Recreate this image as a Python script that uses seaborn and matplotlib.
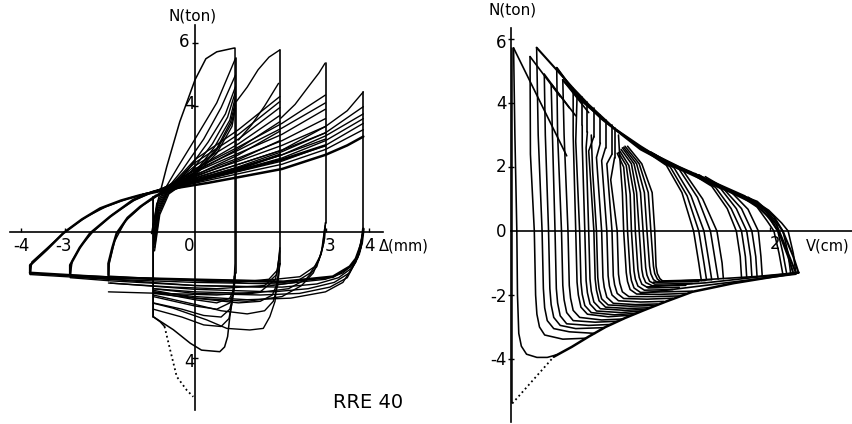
import matplotlib
matplotlib.use("Agg")
import matplotlib.pyplot as plt
import seaborn as sns
import pandas as pd

# ---------------- left panel : N (ton) against displacement (mm) ----------------
left_xtick_labels = ["-4", "-3", "0", "3", "4"]
left_ytick_labels = ["6", "4", "4"]

# first (virgin) loop, amplitude +-1 mm
left_virgin = [(-1.0, -0.05), (-0.85, 1.0), (-0.65, 2.07), (-0.35, 3.5), (0.0, 4.83), (0.25, 5.5),
               (0.5, 5.72), (0.9, 5.84), (0.92, 5.84), (0.92, -1.0), (0.9, -1.6), (0.84, -2.3),
               (0.8, -2.69), (0.75, -3.32), (0.68, -3.65), (0.57, -3.8), (0.15, -3.75), (-0.11, -3.53),
               (-0.5, -3.1), (-0.96, -2.69), (-0.96, 1.12)]

left_a1 = [
    [(-0.96, 0.2), (-0.88, 0.9), (-0.72, 1.3), (-0.4, 2.05), (0.0, 2.95), (0.5, 4.1), (0.93, 5.51)],
    [(-0.96, 0.0), (-0.87, 0.85), (-0.7, 1.28), (-0.3, 1.95), (0.2, 2.95), (0.6, 3.95), (0.93, 4.98)],
    [(-0.95, -0.1), (-0.86, 0.8), (-0.68, 1.26), (-0.2, 1.9), (0.3, 2.85), (0.7, 3.75), (0.93, 4.61)],
    [(-0.95, -0.2), (-0.85, 0.75), (-0.66, 1.25), (-0.1, 1.9), (0.4, 2.8), (0.75, 3.65), (0.93, 4.45)],
    [(-0.94, -0.3), (-0.84, 0.7), (-0.65, 1.24), (0.0, 1.9), (0.45, 2.7), (0.8, 3.55), (0.93, 4.3)],
    [(-0.94, -0.4), (-0.83, 0.65), (-0.64, 1.23), (0.0, 1.88), (0.5, 2.65), (0.82, 3.5), (0.93, 4.14)],
    [(-0.93, -0.5), (-0.82, 0.6), (-0.62, 1.22), (0.0, 1.85), (0.5, 2.6), (0.84, 3.45), (0.93, 4.03)],
    [(-0.93, -0.6), (-0.81, 0.55), (-0.6, 1.21), (0.0, 1.8), (0.5, 2.5), (0.85, 3.35), (0.93, 3.93)],
]

left_base = [
    [(-1.99, -1.37), (-1.99, -1.0), (-1.9, -0.5), (-1.8, -0.04), (-1.55, 0.45), (-1.26, 0.8),
     (-0.9, 1.15), (0.0, 1.6), (1.0, 2.0), (1.95, 2.45)],
    [(-2.87, -1.37), (-2.87, -1.05), (-2.65, -0.5), (-2.41, -0.04), (-1.95, 0.49), (-1.42, 1.02),
     (-0.96, 1.28), (0.0, 1.62), (1.0, 1.95), (2.0, 2.3), (3.0, 2.75)],
    [(-3.79, -1.3), (-3.79, -1.05), (-3.4, -0.55), (-3.03, -0.04), (-2.6, 0.4), (-2.18, 0.75),
     (-1.7, 1.0), (-1.26, 1.17), (-0.5, 1.38), (0.3, 1.56), (1.0, 1.74), (2.0, 2.0), (3.0, 2.45),
     (3.5, 2.75), (3.87, 3.03)],
]

left_a2 = [
    [(-1.99, -1.55), (-1.97, -1.0), (-1.85, -0.3), (-1.6, 0.35), (-1.2, 0.85), (-0.8, 1.2),
     (0.0, 1.75), (1.0, 2.3), (1.95, 2.9)],
    [(-0.85, 1.2), (0.0, 1.8), (1.0, 2.45), (1.95, 3.2)],
    [(-0.8, 1.22), (0.0, 1.9), (1.0, 2.65), (1.95, 3.5)],
    [(-0.8, 1.22), (0.0, 2.0), (1.0, 2.8), (1.95, 3.7)],
    [(-0.75, 1.25), (0.0, 2.1), (1.0, 2.95), (1.95, 3.95)],
    [(-0.75, 1.25), (0.0, 2.2), (1.0, 3.1), (1.95, 4.14)],
    [(-0.7, 1.25), (0.0, 2.3), (1.0, 3.25), (1.95, 4.3)],
    [(1.0, 2.92), (1.3, 3.4), (1.6, 4.0), (1.92, 4.72)],
    [(0.95, 4.14), (1.2, 4.6), (1.45, 5.15), (1.7, 5.55), (1.95, 5.78)],
]

left_a3 = [
    [(-2.87, -1.4), (-2.82, -0.9), (-2.6, -0.4), (-2.35, 0.0), (-1.9, 0.55), (-1.4, 1.0),
     (-0.96, 1.28), (0.0, 1.68), (1.0, 2.05), (2.0, 2.45), (3.0, 2.95)],
    [(-0.96, 1.28), (0.0, 1.72), (1.0, 2.15), (2.0, 2.6), (3.0, 3.15)],
    [(-0.9, 1.3), (0.0, 1.78), (1.0, 2.25), (2.0, 2.75), (3.0, 3.35)],
    [(-0.9, 1.3), (0.0, 1.82), (1.0, 2.35), (2.0, 2.9), (3.0, 3.6)],
    [(-0.85, 1.3), (0.0, 1.9), (1.0, 2.5), (2.0, 3.1), (3.0, 3.9)],
    [(-0.85, 1.3), (0.0, 1.95), (1.0, 2.6), (2.0, 3.3), (3.0, 4.1)],
    [(-0.8, 1.3), (0.0, 2.0), (1.0, 2.7), (2.0, 3.45), (3.0, 4.35)],
    [(1.97, 3.61), (2.3, 4.05), (2.6, 4.6), (2.85, 5.05), (2.99, 5.36)],
]

left_a4 = [
    [(-3.79, -1.35), (-3.75, -0.95), (-3.35, -0.45), (-2.95, 0.05), (-2.5, 0.48), (-2.05, 0.8),
     (-1.5, 1.08), (-1.0, 1.25), (0.0, 1.55), (1.0, 1.85), (2.0, 2.15), (3.0, 2.62), (3.87, 3.25)],
    [(-1.26, 1.17), (0.0, 1.58), (1.0, 1.92), (2.0, 2.25), (3.0, 2.75), (3.87, 3.45)],
    [(-1.2, 1.2), (0.0, 1.6), (1.0, 1.97), (2.0, 2.35), (3.0, 2.9), (3.87, 3.6)],
    [(-1.2, 1.2), (0.0, 1.62), (1.0, 2.02), (2.0, 2.45), (3.0, 3.05), (3.87, 3.75)],
    [(-1.1, 1.22), (0.0, 1.65), (1.0, 2.07), (2.0, 2.55), (3.0, 3.15), (3.87, 3.98)],
    [(-1.0, 1.25), (0.0, 1.7), (1.0, 2.15), (2.0, 2.6), (3.0, 3.35), (3.5, 3.85), (3.87, 4.45)],
]

left_verticals = [
    [(3.0, 5.36), (3.0, 0.3)],
    [(3.87, 4.45), (3.87, 0.1)],
    [(1.95, 5.78), (1.95, -1.0)],
    [(0.95, 5.51), (0.95, -1.3)],
    [(-0.96, -2.69), (-0.96, 1.12)],
]

left_bottom_main = [(3.87, 0.1), (3.83, -0.36), (3.7, -0.85), (3.56, -1.1), (3.17, -1.42), (2.03, -1.58),
                    (0.1, -1.52), (-1.95, -1.45), (-3.79, -1.3)]

left_returns = [
    [(3.87, 0.1), (3.82, -0.5), (3.65, -1.0), (3.4, -1.3), (3.0, -1.5), (2.0, -1.65), (0.0, -1.6),
     (-2.0, -1.5), (-3.79, -1.35)],
    [(3.87, 0.1), (3.8, -0.6), (3.6, -1.15), (3.3, -1.45), (2.8, -1.65), (2.0, -1.75), (0.0, -1.7),
     (-1.95, -1.55), (-2.87, -1.45)],
    [(3.86, 0.0), (3.78, -0.7), (3.55, -1.3), (3.2, -1.6), (2.6, -1.8), (1.8, -1.9), (0.0, -1.82),
     (-1.95, -1.62)],
    [(3.86, 0.0), (3.75, -0.8), (3.5, -1.45), (3.1, -1.75), (2.4, -1.95), (1.5, -2.0), (0.0, -1.95),
     (-0.96, -1.8)],
    [(3.85, -0.1), (3.7, -0.95), (3.4, -1.6), (3.0, -1.9), (2.2, -2.1), (1.2, -2.15), (0.0, -2.05),
     (-0.96, -1.9)],
    [(3.0, 0.3), (2.98, -0.2), (2.9, -0.7), (2.75, -1.1), (2.41, -1.42), (1.5, -1.55), (0.0, -1.52),
     (-1.5, -1.45), (-2.87, -1.37)],
    [(3.0, 0.3), (2.96, -0.35), (2.85, -0.9), (2.65, -1.3), (2.3, -1.6), (1.5, -1.75), (0.0, -1.7),
     (-1.5, -1.55), (-2.87, -1.4)],
    [(2.99, 0.2), (2.93, -0.5), (2.8, -1.1), (2.55, -1.5), (2.15, -1.8), (1.3, -1.95), (0.0, -1.9),
     (-0.96, -1.8)],
    [(2.98, 0.1), (2.9, -0.7), (2.72, -1.3), (2.45, -1.7), (2.0, -2.05), (1.2, -2.2), (0.0, -2.1),
     (-0.96, -1.95)],
    [(1.95, -0.5), (1.9, -1.2), (1.7, -1.5), (1.0, -1.6), (0.0, -1.55), (-1.99, -1.4)],
    [(1.95, -0.6), (1.88, -1.35), (1.6, -1.7), (0.5, -1.8), (-0.5, -1.75), (-1.99, -1.62)],
    [(1.94, -0.8), (1.85, -1.5), (1.5, -1.9), (0.5, -2.0), (-1.99, -1.9)],
]

left_u = [
    [(1.95, -1.0), (1.88, -1.63), (1.84, -2.2), (1.72, -2.69), (1.57, -3.06), (1.26, -3.11),
     (0.73, -3.06), (0.27, -2.79), (-0.5, -2.42), (-0.96, -2.26)],
    [(1.95, -1.0), (1.9, -1.7), (1.8, -2.2), (1.6, -2.5), (1.2, -2.6), (0.6, -2.5), (0.0, -2.3),
     (-0.96, -2.0)],
    [(1.95, -1.0), (1.9, -1.6), (1.78, -2.0), (1.5, -2.2), (1.0, -2.25), (0.0, -2.1), (-0.96, -1.85)],
    [(0.9, -1.4), (0.86, -2.2), (0.78, -2.75), (0.6, -3.0), (0.2, -2.95), (-0.3, -2.7), (-0.96, -2.45)],
    [(0.92, -1.4), (0.88, -2.0), (0.8, -2.45), (0.6, -2.7), (0.2, -2.65), (-0.3, -2.45), (-0.96, -2.25)],
    [(0.92, -1.3), (0.89, -1.9), (0.8, -2.25), (0.5, -2.45), (0.0, -2.35), (-0.96, -2.05)],
    [(0.93, -1.3), (0.9, -1.8), (0.8, -2.1), (0.5, -2.25), (0.0, -2.15), (-0.96, -1.9)],
]

left_tail = [(-0.96, -2.69), (-0.8, -2.85), (-0.7, -3.0)]
left_dotted = [(-0.7, -3.0), (-0.57, -3.75), (-0.42, -4.59), (-0.19, -5.02), (-0.04, -5.23)]

# ---------------- right panel : N (ton) against V (cm) ----------------
right_ytick_labels = ["6", "4", "2", "0", "-2", "-4"]

right_first = [(0.01, -5.39), (0.01, 5.72)]
right_dotted = [(0.01, -5.39), (0.33, -3.93)]

right_lower_env = [(0.33, -3.93), (0.47, -3.62), (0.6, -3.3), (0.73, -3.0), (0.88, -2.72), (1.03, -2.47),
                   (1.2, -2.2), (1.4, -1.9), (1.72, -1.63), (2.22, -1.3)]

right_upper_env = [
    [(0.198, 5.73), (0.48, 4.46), (0.6, 3.95), (0.8, 3.2), (1.0, 2.65), (1.15, 2.27), (1.4, 1.8),
     (1.67, 1.28), (1.9, 0.92), (2.03, 0.45), (2.1, -0.02), (2.18, -0.8), (2.22, -1.3)],
    [(0.353, 5.1), (0.5, 4.3), (0.7, 3.5), (1.0, 2.55), (1.2, 2.12), (1.45, 1.66), (1.7, 1.2),
     (1.88, 0.85), (2.0, 0.4), (2.07, -0.05), (2.14, -0.8), (2.18, -1.32)],
    [(0.4, 4.72), (0.55, 4.05), (0.75, 3.35), (1.0, 2.6), (1.3, 2.0), (1.55, 1.55), (1.8, 1.1),
     (1.95, 0.7), (2.05, 0.2), (2.12, -0.5), (2.2, -1.31)],
]

right_flat = [
    [(1.1, -1.6), (1.5, -1.52), (1.9, -1.42), (2.22, -1.3)],
    [(1.05, -1.75), (1.5, -1.62), (2.22, -1.3)],
    [(1.0, -1.95), (1.4, -1.75), (2.2, -1.35)],
]

right_diag = [
    [(0.02, 5.72), (0.43, 2.35)],
    [(0.147, 5.45), (0.38, 4.2)],
    [(0.257, 4.9), (0.45, 3.85)],
    [(0.31, 4.6), (0.5, 3.6)],
    [(0.353, 5.1), (0.55, 4.0)],
    [(0.4, 4.72), (0.6, 3.7)],
]

right_rect = [
    [(0.55, 4.2), (0.55, 3.3)], [(0.59, 4.02), (0.59, 3.1)], [(0.64, 3.85), (0.64, 2.95)],
    [(0.69, 3.62), (0.69, 2.75)], [(0.73, 3.47), (0.73, 2.6)], [(0.78, 3.3), (0.78, 2.4)],
    [(0.8, 3.22), (0.8, 2.27)],
]

right_falls = [
    [(0.02, 5.72), (0.03, 3.0), (0.045, 0.0), (0.05, -2.0), (0.06, -3.2), (0.08, -3.6), (0.12, -3.85),
     (0.2, -3.95), (0.28, -3.95), (0.36, -3.86)],
    [(0.147, 5.45), (0.15, 2.4), (0.18, 0.0), (0.19, -2.0), (0.2, -2.6), (0.22, -3.0), (0.26, -3.25),
     (0.4, -3.38), (0.58, -3.35)],
    [(0.198, 5.73), (0.21, 3.0), (0.24, 0.0), (0.25, -1.8), (0.26, -2.4), (0.28, -2.8), (0.33, -3.05),
     (0.45, -3.15), (0.65, -3.2)],
    [(0.257, 4.9), (0.265, 3.0), (0.29, 0.0), (0.3, -1.8), (0.31, -2.3), (0.33, -2.7), (0.38, -2.95),
     (0.5, -3.05), (0.72, -3.02)],
    [(0.31, 4.6), (0.32, 3.0), (0.34, 0.0), (0.35, -1.8), (0.36, -2.25), (0.38, -2.65), (0.43, -2.9),
     (0.6, -2.95), (0.77, -2.92)],
    [(0.353, 5.1), (0.36, 3.0), (0.39, 0.0), (0.4, -1.7), (0.41, -2.15), (0.43, -2.55), (0.48, -2.8),
     (0.65, -2.85), (0.82, -2.82)],
    [(0.4, 4.72), (0.41, 3.0), (0.44, 0.0), (0.45, -1.7), (0.46, -2.1), (0.48, -2.48), (0.53, -2.7),
     (0.7, -2.78), (0.86, -2.75)],
    [(0.48, 4.46), (0.48, 3.0), (0.5, 0.0), (0.51, -1.6), (0.52, -2.0), (0.54, -2.38), (0.59, -2.6),
     (0.75, -2.68), (0.93, -2.63)],
    [(0.51, 4.2), (0.5, 2.8), (0.53, 0.0), (0.54, -1.6), (0.55, -1.98), (0.57, -2.33), (0.62, -2.55),
     (0.8, -2.62), (0.97, -2.57)],
    [(0.55, 3.3), (0.55, 2.7), (0.57, 0.0), (0.58, -1.55), (0.59, -1.93), (0.61, -2.28), (0.66, -2.5),
     (0.85, -2.55), (1.0, -2.5)],
    [(0.59, 3.1), (0.58, 2.6), (0.6, 0.0), (0.61, -1.5), (0.62, -1.88), (0.64, -2.22), (0.69, -2.43),
     (0.88, -2.48), (1.03, -2.45)],
    [(0.64, 2.95), (0.6, 2.5), (0.64, 0.0), (0.65, -1.5), (0.66, -1.85), (0.68, -2.18), (0.73, -2.38),
     (0.9, -2.42), (1.06, -2.4)],
    [(0.62, 3.0), (0.63, 1.9), (0.66, 0.0), (0.67, -1.45), (0.68, -1.8), (0.7, -2.12), (0.75, -2.31),
     (0.92, -2.35), (1.1, -2.33)],
    [(0.69, 2.75), (0.66, 2.3), (0.7, 0.0), (0.71, -1.45), (0.72, -1.76), (0.74, -2.07), (0.79, -2.26),
     (0.96, -2.3), (1.13, -2.28)],
    [(0.73, 2.6), (0.7, 2.2), (0.74, 0.0), (0.75, -1.4), (0.76, -1.72), (0.78, -2.0), (0.83, -2.18),
     (1.0, -2.22), (1.18, -2.2)],
    [(0.78, 2.4), (0.74, 2.1), (0.78, 0.0), (0.79, -1.4), (0.8, -1.68), (0.82, -1.95), (0.87, -2.11),
     (1.05, -2.13), (1.25, -2.1)],
    [(0.8, 2.3), (0.77, 1.6), (0.82, 0.0), (0.83, -1.35), (0.84, -1.63), (0.86, -1.9), (0.91, -2.05),
     (1.1, -2.05), (1.3, -2.03)],
    [(0.83, 3.0), (0.84, 2.3), (0.86, 1.2), (0.87, 0.0), (0.89, -1.3), (0.9, -1.58), (0.92, -1.83),
     (0.97, -1.97), (1.15, -1.98), (1.35, -1.95)],
    [(0.82, 2.43), (0.87, 2.0), (0.89, 1.1), (0.9, 0.0), (0.92, -1.3), (0.93, -1.55), (0.95, -1.78),
     (1.0, -1.92), (1.2, -1.9), (1.4, -1.88)],
    [(0.83, 2.45), (0.89, 2.05), (0.92, 1.15), (0.93, 0.0), (0.95, -1.25), (0.96, -1.5), (0.98, -1.72),
     (1.03, -1.85), (1.25, -1.83)],
    [(0.84, 2.5), (0.91, 2.05), (0.95, 1.15), (0.96, 0.0), (0.98, -1.2), (0.99, -1.45), (1.01, -1.66),
     (1.06, -1.78), (1.3, -1.76)],
    [(0.85, 2.55), (0.93, 2.1), (0.97, 1.2), (0.99, 0.0), (1.01, -1.2), (1.02, -1.42), (1.04, -1.61),
     (1.09, -1.71), (1.35, -1.7)],
    [(0.86, 2.6), (0.95, 2.1), (1.0, 1.2), (1.02, 0.0), (1.04, -1.15), (1.05, -1.38), (1.07, -1.57),
     (1.11, -1.66), (1.4, -1.64)],
    [(0.87, 2.62), (0.97, 2.1), (1.03, 1.2), (1.05, 0.0), (1.07, -1.1), (1.08, -1.34), (1.1, -1.52),
     (1.13, -1.6), (1.45, -1.58)],
    [(0.88, 2.65), (0.99, 2.1), (1.06, 1.2), (1.08, 0.0), (1.1, -1.1), (1.11, -1.33), (1.13, -1.5),
     (1.15, -1.57), (1.5, -1.55)],
    [(0.9, 2.65), (1.01, 2.1), (1.09, 1.2), (1.11, 0.0), (1.12, -1.1), (1.13, -1.33), (1.15, -1.49),
     (1.17, -1.56), (1.55, -1.52)],
]

right_late = [
    [(1.0, 2.6), (1.2, 2.05), (1.32, 1.2), (1.41, 0.0), (1.45, -1.0), (1.47, -1.55)],
    [(1.02, 2.58), (1.23, 2.0), (1.36, 1.1), (1.45, 0.0), (1.49, -1.0), (1.51, -1.53)],
    [(1.05, 2.52), (1.26, 1.97), (1.39, 1.1), (1.49, 0.0), (1.53, -1.0), (1.55, -1.52)],
    [(1.08, 2.47), (1.3, 1.92), (1.44, 1.05), (1.54, 0.0), (1.58, -1.0), (1.6, -1.5)],
    [(1.1, 2.42), (1.33, 1.88), (1.48, 1.0), (1.59, 0.0), (1.63, -1.0), (1.64, -1.49)],
    [(1.35, 1.9), (1.55, 1.4), (1.67, 0.7), (1.74, 0.0), (1.77, -0.8), (1.78, -1.45)],
    [(1.38, 1.86), (1.58, 1.36), (1.7, 0.7), (1.78, 0.0), (1.81, -0.8), (1.82, -1.44)],
    [(1.42, 1.8), (1.62, 1.32), (1.74, 0.7), (1.82, 0.0), (1.85, -0.8), (1.86, -1.43)],
    [(1.45, 1.76), (1.65, 1.28), (1.78, 0.7), (1.86, 0.0), (1.89, -0.8), (1.9, -1.42)],
    [(1.5, 1.7), (1.7, 1.22), (1.83, 0.68), (1.91, 0.0), (1.93, -0.8), (1.94, -1.41)],
    [(1.75, 1.15), (1.9, 0.75), (1.98, 0.3), (2.03, 0.0), (2.07, -0.7), (2.1, -1.37)],
    [(1.78, 1.12), (1.93, 0.72), (2.01, 0.3), (2.06, 0.0), (2.1, -0.7), (2.13, -1.36)],
    [(1.8, 1.1), (1.96, 0.68), (2.05, 0.28), (2.1, 0.0), (2.14, -0.7), (2.16, -1.35)],
    [(1.83, 1.06), (1.99, 0.65), (2.09, 0.25), (2.14, 0.0), (2.18, -0.7), (2.2, -1.33)],
]


def to_frame(curves):
    rows = []
    for i, c in enumerate(curves):
        for j, (x, y) in enumerate(c):
            rows.append((i, j, x, y))
    return pd.DataFrame(rows, columns=["curve", "order", "x", "y"])


def draw(ax, curves, lw=1.0, ls="-"):
    df = to_frame(curves)
    sns.lineplot(data=df, x="x", y="y", units="curve", estimator=None, sort=False,
                 color="black", lw=lw, ls=ls, ax=ax, legend=False)


def centre_axes(ax, xb, yb):
    ax.spines["left"].set_position(("data", 0))
    ax.spines["bottom"].set_position(("data", 0))
    ax.spines["top"].set_visible(False)
    ax.spines["right"].set_visible(False)
    for s in ("left", "bottom"):
        ax.spines[s].set_color("black")
        ax.spines[s].set_linewidth(1.2)
    ax.spines["bottom"].set_bounds(*xb)
    ax.spines["left"].set_bounds(*yb)
    ax.set_xlabel("")
    ax.set_ylabel("")
    ax.patch.set_alpha(0)


sns.set_theme(style="white")
plt.rcParams["font.family"] = ["DejaVu Sans"]
plt.rcParams["text.color"] = "black"

fig = plt.figure(figsize=(8.53, 4.24), dpi=100)
axl = fig.add_axes([0, 0, 430 / 853, 1])
axr = fig.add_axes([430 / 853, 0, 423 / 853, 1])

# left panel
draw(axl, [left_virgin], lw=1.1)
draw(axl, left_a1)
draw(axl, left_base, lw=1.8)
draw(axl, left_a2)
draw(axl, left_a3)
draw(axl, left_a4)
draw(axl, left_verticals, lw=1.2)
draw(axl, [left_bottom_main], lw=2.0)
draw(axl, left_returns)
draw(axl, left_u)
draw(axl, [left_tail], lw=1.1)
draw(axl, [left_dotted], lw=1.3, ls=":")

axl.set_xlim(-195 / 43.5, 235 / 43.5)
axl.set_ylim(-192 / 31.5, 232 / 31.5)
centre_axes(axl, (-4.25, 4.32), (-5.65, 6.57))
axl.set_xticks([-4, -3, 3, 4])
axl.set_yticks([6, 4, -4])
axl.set_xticklabels([])
axl.set_yticklabels([])
axl.tick_params(axis="x", direction="in", length=3, width=1, colors="black", bottom=True)
axl.tick_params(axis="y", direction="inout", length=5, width=1, colors="black", left=True)

fs = 12
for xv, lab in zip([-4.0, -3.03, -0.14, 3.10, 4.02], left_xtick_labels):
    axl.text(xv, -0.44, lab, ha="center", va="center", fontsize=fs)
for (xv, yv), lab in zip([(-0.25, 6.03), (-0.12, 4.06), (-0.12, -4.13)], left_ytick_labels):
    axl.text(xv, yv, lab, ha="center", va="center", fontsize=fs)
axl.text(4.22, -0.44, "Δ(mm)", ha="left", va="center", fontsize=10.5)
axl.text(-0.05, 6.86, "N(ton)", ha="center", va="center", fontsize=11)
axl.text(3.98, -5.4, "RRE 40", ha="center", va="center", fontsize=14)

# right panel
draw(axr, [right_first], lw=1.1)
draw(axr, [right_dotted], lw=1.3, ls=":")
draw(axr, [right_lower_env], lw=1.8)
draw(axr, right_upper_env, lw=1.5)
draw(axr, right_flat, lw=1.2)
draw(axr, right_diag, lw=1.2)
draw(axr, right_rect, lw=1.2)
draw(axr, right_falls, lw=1.15)
draw(axr, right_late, lw=1.15)

axr.set_xlim(-81 / 129.5, 342 / 129.5)
axr.set_ylim(-193 / 32, 231 / 32)
centre_axes(axr, (0, 2.63), (-5.96, 6.34))
axr.set_xticks([2])
axr.set_yticks([6, 4, 2, -2, -4])
axr.set_xticklabels([])
axr.set_yticklabels([])
axr.tick_params(axis="x", direction="in", length=3, width=1, colors="black", bottom=True)
axr.tick_params(axis="y", direction="inout", length=5, width=1, colors="black", left=True)

for yv, lab in zip([5.88, 3.97, 2.0, -0.03, -2.06, -4.03], right_ytick_labels):
    axr.text(-0.035, yv, lab, ha="right", va="center", fontsize=fs)
axr.text(0.015, 6.9, "N(ton)", ha="center", va="center", fontsize=11)
axr.text(2.04, -0.41, "2", ha="center", va="center", fontsize=fs)
axr.text(2.275, -0.47, "V(cm)", ha="left", va="center", fontsize=10.5)

fig.savefig("out.png", dpi=100)
